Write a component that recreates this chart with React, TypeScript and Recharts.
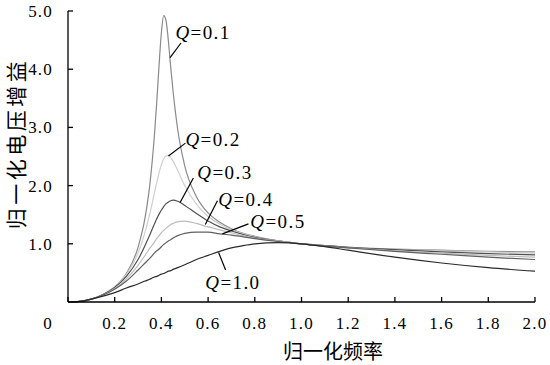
import React from 'react';
import { LineChart, Line, XAxis, YAxis, ReferenceLine, ReferenceDot } from 'recharts';

const freq = [0, 0.05, 0.1, 0.15, 0.2, 0.25, 0.3, 0.33, 0.35, 0.37, 0.38, 0.39, 0.4, 0.41, 0.42, 0.43, 0.44, 0.45, 0.47, 0.5, 0.55, 0.6, 0.65, 0.7, 0.75, 0.8, 0.9, 1.0, 1.1, 1.2, 1.4, 1.6, 1.8, 2.0];

const q01 = [0, 0.01, 0.05, 0.13, 0.26, 0.49, 0.94, 1.45, 2.0, 2.86, 3.43, 4.07, 4.63, 4.92, 4.83, 4.48, 4.03, 3.62, 2.96, 2.34, 1.81, 1.53, 1.37, 1.26, 1.18, 1.13, 1.05, 1.0, 0.97, 0.94, 0.91, 0.89, 0.87, 0.86];
const q02 = [0, 0.01, 0.05, 0.13, 0.26, 0.47, 0.84, 1.2, 1.51, 1.87, 2.05, 2.22, 2.36, 2.46, 2.51, 2.52, 2.48, 2.42, 2.26, 2.0, 1.68, 1.47, 1.34, 1.24, 1.17, 1.12, 1.05, 1.0, 0.97, 0.94, 0.9, 0.88, 0.86, 0.84];
const q03 = [0, 0.01, 0.05, 0.13, 0.25, 0.44, 0.73, 0.97, 1.15, 1.34, 1.43, 1.51, 1.58, 1.64, 1.69, 1.72, 1.74, 1.75, 1.73, 1.66, 1.52, 1.39, 1.29, 1.22, 1.16, 1.11, 1.05, 1.0, 0.97, 0.94, 0.9, 0.86, 0.83, 0.81];
const q04 = [0, 0.01, 0.05, 0.12, 0.23, 0.4, 0.63, 0.8, 0.92, 1.03, 1.09, 1.14, 1.19, 1.23, 1.27, 1.3, 1.33, 1.35, 1.38, 1.39, 1.35, 1.29, 1.24, 1.19, 1.14, 1.1, 1.05, 1.0, 0.96, 0.93, 0.88, 0.84, 0.8, 0.77];
const q05 = [0, 0.01, 0.05, 0.12, 0.22, 0.36, 0.55, 0.67, 0.75, 0.84, 0.88, 0.91, 0.95, 0.99, 1.02, 1.05, 1.07, 1.1, 1.14, 1.18, 1.2, 1.2, 1.17, 1.15, 1.12, 1.09, 1.04, 1.0, 0.96, 0.93, 0.87, 0.82, 0.77, 0.73];
const q10 = [0, 0.01, 0.05, 0.1, 0.16, 0.24, 0.31, 0.36, 0.39, 0.43, 0.44, 0.46, 0.48, 0.49, 0.51, 0.53, 0.54, 0.56, 0.59, 0.64, 0.73, 0.8, 0.87, 0.93, 0.97, 1.0, 1.02, 1.0, 0.95, 0.89, 0.77, 0.67, 0.59, 0.53];

const seriesKeys = ['q01', 'q02', 'q03', 'q04', 'q05', 'q10'];
const seriesColors = ['#8a8a8a', '#cfcfcf', '#505050', '#bdbdbd', '#606060', '#2a2a2a'];

const xTicks = [0, 0.2, 0.4, 0.6, 0.8, 1.0, 1.2, 1.4, 1.6, 1.8, 2.0];
const yTicks = [1, 2, 3, 4, 5];

const labelTexts = ['=0.1', '=0.2', '=0.3', '=0.4', '=0.5', '=1.0'];
const labelX = [0.46, 0.503, 0.554, 0.644, 0.781, 0.588];
const labelY = [4.64, 2.8, 2.235, 1.77, 1.394, 0.331];
const leaderX1 = [0.484, 0.503, 0.537, 0.64, 0.773, 0.675];
const leaderY1 = [4.45, 2.73, 2.13, 1.74, 1.343, 0.55];
const leaderX2 = [0.437, 0.43, 0.48, 0.588, 0.661, 0.645];
const leaderY2 = [4.2, 2.51, 1.71, 1.33, 1.17, 0.85];

const xTitle = '归一化频率';
const yTitle = '归一化电压增益';

const data = freq.map((f, i) => ({
  f,
  q01: q01[i],
  q02: q02[i],
  q03: q03[i],
  q04: q04[i],
  q05: q05[i],
  q10: q10[i],
}));

const serif = '"Liberation Serif", "Times New Roman", serif';
const cjk = '"Noto Sans CJK SC", sans-serif';

const XTick = (props: any) => {
  const { x, y, payload } = props;
  const v = payload.value;
  const label = v === 0 ? '0' : v.toFixed(1);
  return (
    <text x={v === 0 ? x - 20 : x} y={y} dy="0.71em" textAnchor="middle" fontFamily={serif} fontSize={17} letterSpacing={1.2} fill="#000">
      {label}
    </text>
  );
};

const YTick = (props: any) => {
  const { x, y, payload } = props;
  return (
    <text x={x} y={y} dy="0.35em" textAnchor="end" fontFamily={serif} fontSize={17} letterSpacing={1.2} fill="#000">
      {payload.value.toFixed(1)}
    </text>
  );
};

const makeLabelShape = (txt: string) => (p: any) => (
  <text x={p.cx} y={p.cy} dy="0.35em" textAnchor="start" fontFamily={serif} fontSize={19} letterSpacing={1.4} fill="#000">
    <tspan fontStyle="italic">Q</tspan>
    <tspan>{txt}</tspan>
  </text>
);

export default function App() {
  return (
    <div style={{ position: 'absolute', left: 0, top: 0, width: 550, height: 365, overflow: 'hidden' }}>
      <LineChart width={550} height={365} data={data} margin={{ top: 11, right: 15, bottom: 0, left: 0 }} style={{ overflow: 'visible' }}>
        <XAxis
          dataKey="f"
          type="number"
          domain={[0, 2]}
          ticks={xTicks}
          tickSize={-5}
          tickMargin={20}
          height={63}
          stroke="#000"
          strokeWidth={1.3}
          tick={<XTick />}
          interval={0}
          label={{
            content: (p: any) => {
              const vb = p.viewBox;
              return (
                <text x={333} y={vb.y + 50} dy="0.35em" textAnchor="middle" fontFamily={cjk} fontSize={20} fill="#000">
                  {xTitle}
                </text>
              );
            },
          }}
        />
        <YAxis
          type="number"
          domain={[0, 5]}
          ticks={yTicks}
          tickSize={-5}
          tickMargin={20}
          width={68}
          stroke="#000"
          strokeWidth={1.3}
          tick={<YTick />}
          interval={0}
          label={{
            content: (p: any) => {
              const vb = p.viewBox;
              const cx = 17;
              const cy = vb.y + vb.height / 2 - 13;
              return (
                <text x={cx} y={cy} dy="0.35em" textAnchor="middle" transform={`rotate(-90, ${cx}, ${cy})`} fontFamily={cjk} fontSize={21} letterSpacing={3.5} fill="#000">
                  {yTitle}
                </text>
              );
            },
          }}
        />
        {seriesKeys.map((k, i) => (
          <Line key={k} dataKey={k} type="monotone" stroke={seriesColors[i]} strokeWidth={1.2} dot={false} activeDot={false} isAnimationActive={false} />
        ))}
        {labelTexts.map((t, i) => (
          <ReferenceLine
            key={'l' + i}
            segment={[
              { x: leaderX1[i], y: leaderY1[i] },
              { x: leaderX2[i], y: leaderY2[i] },
            ]}
            stroke="#000"
            strokeWidth={1.2}
          />
        ))}
        {labelTexts.map((t, i) => (
          <ReferenceDot key={'t' + i} x={labelX[i]} y={labelY[i]} r={0} shape={makeLabelShape(t)} />
        ))}
      </LineChart>
    </div>
  );
}
